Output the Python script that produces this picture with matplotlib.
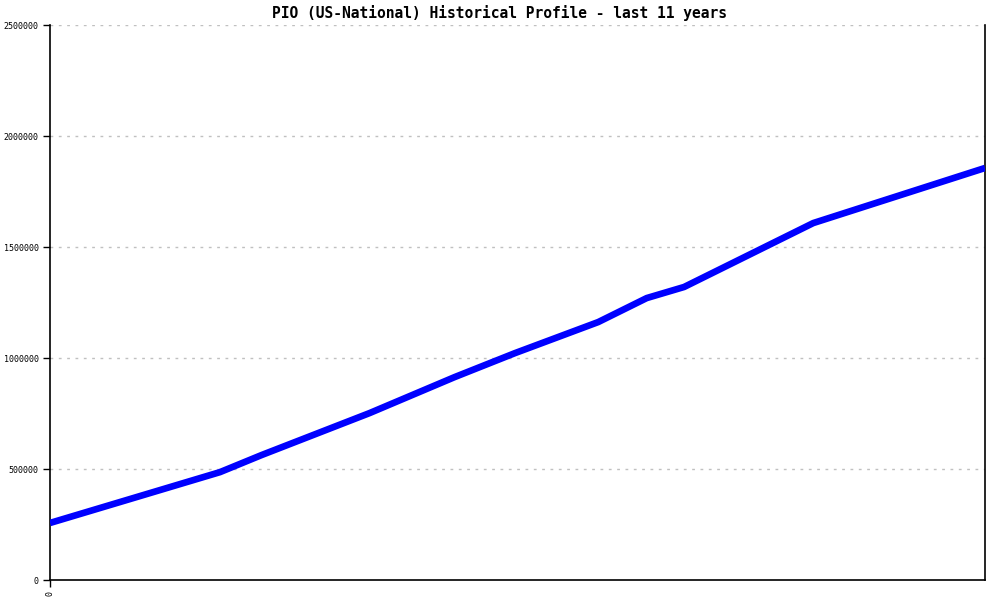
import matplotlib
matplotlib.use('Agg')
from matplotlib import pyplot as plt

# years since start (x) and value
years = [0, 2.0, 2.49, 3.76, 4.76, 5.47, 6.45, 7.02, 7.46, 8.98, 11]
values = [257000, 486000, 563000, 752000, 914000, 1022000, 1162000, 1270000, 1320000, 1608000, 1856000]
yticks = [0, 500000, 1000000, 1500000, 2000000, 2500000]
title = 'PIO (US-National) Historical Profile - last 11 years'

plt.rcParams['font.family'] = 'DejaVu Sans Mono'

fig = plt.figure(figsize=(10, 6), dpi=100)
ax = fig.add_axes([0.05, 0.0333, 0.935, 0.925])
ax.plot(years, values, color='#0000ff', linewidth=4.8, solid_joinstyle='round', solid_capstyle='butt', zorder=3)
ax.set_xlim(0, 11)
ax.set_ylim(0, 2500000)
ax.set_yticks(yticks)
ax.set_yticklabels([str(v) for v in yticks], fontsize=6)
ax.set_xticks([0])
ax.set_xticklabels(['0'], fontsize=6, rotation=90)
ax.tick_params(length=5, width=1, direction='out', pad=3)
for y in yticks[1:]:
    ax.axhline(y, color='#c0c0c0', linewidth=1, linestyle=(0, (2, 4)), zorder=1)
ax.spines['top'].set_visible(False)
for s in ['left', 'bottom', 'right']:
    ax.spines[s].set_linewidth(1.2)
fig.text(0.499, 0.978, title, fontsize=10.5, fontweight='bold', ha='center', va='center')

fig.savefig('out.png')
